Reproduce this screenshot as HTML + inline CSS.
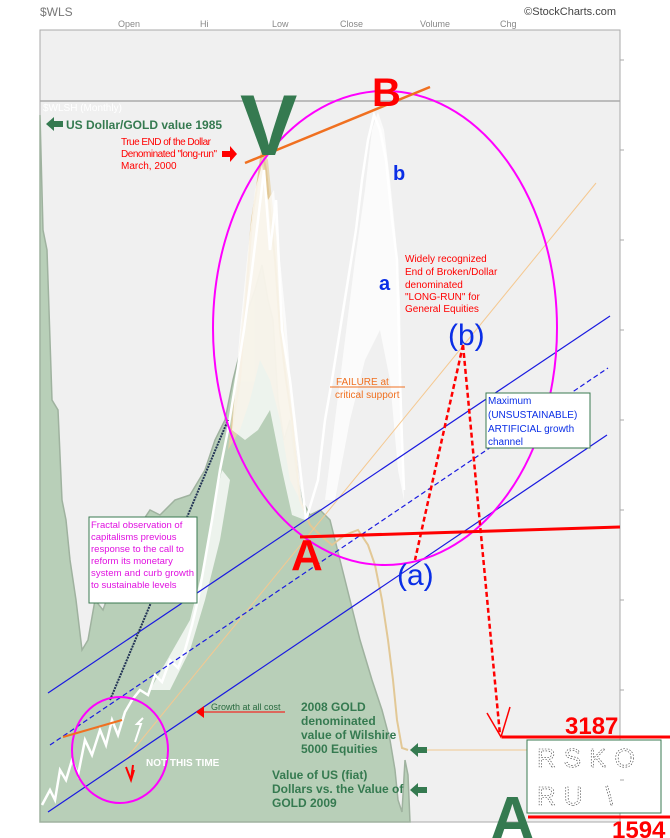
<!DOCTYPE html>
<html><head><meta charset="utf-8"><style>
html,body{margin:0;padding:0;background:#fff;}
svg{display:block;font-family:"Liberation Sans",sans-serif;}
</style></head><body>
<svg width="670" height="838" viewBox="0 0 670 838" xmlns="http://www.w3.org/2000/svg">
<rect width="670" height="838" fill="#fff"/>
<text x="40" y="16" font-size="12" fill="#777">$WLS</text>
<text x="616" y="15" font-size="11" fill="#444" text-anchor="end">©StockCharts.com</text>
<g font-size="9" fill="#888"><text x="118" y="27">Open</text><text x="200" y="27">Hi</text><text x="272" y="27">Low</text><text x="340" y="27">Close</text><text x="420" y="27">Volume</text><text x="500" y="27">Chg</text></g>
<rect x="40" y="30" width="580" height="792" fill="#f0f0f0" stroke="#aaa"/>
<line x1="40" y1="101" x2="620" y2="101" stroke="#aaa" stroke-width="1.5"/>
<text x="43" y="111" font-size="10" fill="#fff">$WLSH (Monthly)</text>
<path d="M40,822 L40,115 43,230 47,250 52,400 58,410 62,500 66,520 70,560 76,600 82,650 88,640 95,600 103,610 110,590 118,600 128,560 140,525 150,510 160,515 175,500 190,495 205,470 215,440 225,420 233,380 240,352 248,310 255,290 262,265 268,300 273,320 278,400 284,440 290,420 296,470 302,500 310,515 320,510 330,520 340,560 350,600 360,640 372,680 382,710 390,740 395,770 398,800 402,812 405,760 408,775 410,822 Z" fill="#b8cfb8" stroke="#9fb29f" stroke-width="1.5"/>
<!-- tan series -->
<path d="M228,450 L236,380 244,300 250,230 256,190 262,150 268,160 272,200 278,250 284,330 290,390 296,450 300,500 290,480 280,420 270,380 260,360 250,400 240,430 Z" fill="#e6d2a8" opacity="0.8"/>
<path d="M230,440 240,380 246,300 252,220 258,180 262,150 266,170 270,210 275,260 280,330 286,380 292,420 300,500 310,525 320,535 332,545 345,535 358,530 368,545 375,565 382,600 388,640 393,680 397,720 402,748 408,750" fill="none" stroke="#e2c896" stroke-width="2"/>
<line x1="410" y1="750" x2="527" y2="750" stroke="#f0c890" stroke-width="1"/>
<!-- white bands -->
<g fill="#fff" opacity="0.75">
<path d="M232,430 240,330 248,250 255,190 262,165 268,200 274,190 280,260 286,320 292,400 298,470 305,520 292,515 282,470 270,410 258,430 245,440 Z"/>
<path d="M325,500 335,420 345,340 355,260 365,190 372,130 378,112 384,130 390,180 396,240 400,300 402,420 404,500 398,470 390,380 380,330 365,360 350,420 335,500 Z"/>
<path d="M150,690 170,655 190,620 205,560 215,500 222,470 230,480 220,540 205,600 190,650 170,690 Z"/>
</g>
<path d="M42,805 50,790 55,800 60,770 66,780 72,760 78,775 85,740 92,755 100,730 106,745 112,720 118,735 125,712 132,700 140,690 148,695 155,675 162,682 170,660 178,668 185,650 192,625 198,600 205,560 212,520 220,470 228,430 236,380 244,330 252,270 258,220 264,170 270,250 276,200 282,330 290,380 298,450 306,520 312,500 318,480 325,420 332,380 340,330 348,280 356,230 362,180 368,140 374,115 380,130 386,160 392,220 397,260 400,380 402,440 404,490" fill="none" stroke="#fff" stroke-width="2.5"/>
<line x1="125" y1="760" x2="596" y2="183" stroke="#f5c890" stroke-width="1"/>
<line x1="48" y1="693" x2="610" y2="316" stroke="#1a1ae0" stroke-width="1.2"/>
<line x1="50" y1="745" x2="608" y2="368" stroke="#1a1ae0" stroke-width="1.2" stroke-dasharray="5,3"/>
<line x1="48" y1="812" x2="607" y2="435" stroke="#1a1ae0" stroke-width="1.2"/>
<line x1="110" y1="700" x2="228" y2="420" stroke="#235" stroke-width="2" stroke-dasharray="2,1"/>
<ellipse cx="385" cy="328" rx="172" ry="237" fill="none" stroke="#f0f" stroke-width="2"/>
<ellipse cx="120" cy="750" rx="48" ry="53" fill="none" stroke="#f0f" stroke-width="2"/>
<line x1="245" y1="163" x2="430" y2="87" stroke="#f07020" stroke-width="2.5"/>
<line x1="63" y1="737" x2="122" y2="720" stroke="#f07020" stroke-width="2"/>
<line x1="330" y1="387" x2="405" y2="387" stroke="#f07020" stroke-width="1"/>
<line x1="300" y1="537" x2="620" y2="527" stroke="#f00" stroke-width="3"/>
<path d="M463,345 L415,560 M463,345 L500,735" stroke="#f00" stroke-width="2.5" stroke-dasharray="5,3" fill="none"/>
<path d="M487,713 L501,737 L510,707" stroke="#f00" stroke-width="1.5" fill="none"/>
<line x1="502" y1="737" x2="670" y2="737" stroke="#f00" stroke-width="3"/>
<line x1="528" y1="817" x2="670" y2="817" stroke="#f00" stroke-width="3"/>
<text x="565" y="734" font-size="24" font-weight="bold" fill="#f00">3187</text>
<text x="612" y="838" font-size="24" font-weight="bold" fill="#f00">1594</text>
<rect x="527" y="740" width="134" height="73" fill="#fff" stroke="#3a7a50"/>
<text x="537" y="767" font-size="26" fill="#fff" stroke="#333" stroke-width="0.6" stroke-dasharray="1.5,1.5" letter-spacing="8">RSKO</text>
<text x="537" y="805" font-size="26" fill="#fff" stroke="#333" stroke-width="0.6" stroke-dasharray="1.5,1.5" letter-spacing="8">RU \</text>
<text x="240" y="155" font-size="86" font-weight="bold" fill="#357a50">V</text>
<text x="372" y="106" font-size="40" font-weight="bold" fill="#f00">B</text>
<text x="490" y="840" font-size="62" font-weight="bold" fill="#357a50">A</text>
<text x="291" y="570" font-size="44" font-weight="bold" fill="#f00">A</text>
<text x="397" y="585" font-size="30" fill="#0a2ee6">(a)</text>
<text x="448" y="345" font-size="30" fill="#0a2ee6">(b)</text>
<text x="379" y="290" font-size="20" font-weight="bold" fill="#0a2ee6">a</text>
<text x="393" y="180" font-size="20" font-weight="bold" fill="#0a2ee6">b</text>
<path d="M46,124 l8,-7 v4 h9 v6 h-9 v4 z" fill="#357a50"/>
<text x="66" y="129" font-size="12" font-weight="bold" fill="#357a50">US Dollar/GOLD value 1985</text>
<g font-size="10" fill="#f00"><text x="121" y="145" textLength="90">True END of the Dollar</text><text x="121" y="157" textLength="96">Denominated "long-run"</text><text x="121" y="169">March, 2000</text></g>
<path d="M222,151 h8 v-5 l7,8 -7,8 v-5 h-8 z" fill="#f00"/>
<g font-size="10" fill="#f00"><text x="405" y="262">Widely recognized</text><text x="405" y="275">End of Broken/Dollar</text><text x="405" y="288">denominated</text><text x="405" y="300">"LONG-RUN" for</text><text x="405" y="312">General Equities</text></g>
<text x="336" y="385" font-size="10" fill="#f07020">FAILURE at</text>
<text x="335" y="398" font-size="10" fill="#f07020">critical support</text>
<rect x="486" y="393" width="104" height="55" fill="#fff" stroke="#3a7a50"/>
<g font-size="10" fill="#0a2ee6"><text x="488" y="404">Maximum</text><text x="488" y="418">(UNSUSTAINABLE)</text><text x="488" y="432">ARTIFICIAL growth</text><text x="488" y="445">channel</text></g>
<rect x="89" y="517" width="108" height="86" fill="#fff" stroke="#3a7a50"/>
<g font-size="9.5" fill="#e010e0"><text x="91" y="528">Fractal observation of</text><text x="91" y="540">capitalisms previous</text><text x="91" y="552">response to the call to</text><text x="91" y="564">reform its monetary</text><text x="91" y="576" textLength="103">system and curb growth</text><text x="91" y="588">to sustainable levels</text></g>
<line x1="200" y1="712" x2="285" y2="712" stroke="#f00" stroke-width="1"/>
<path d="M196,712 l8,-6 v12 z" fill="#f00"/>
<text x="211" y="710" font-size="9" fill="#2a6a40">Growth at all cost</text>
<g font-size="12" font-weight="bold" fill="#357a50"><text x="301" y="711">2008 GOLD</text><text x="301" y="725">denominated</text><text x="301" y="739">value of Wilshire</text><text x="301" y="753">5000 Equities</text>
<text x="272" y="779">Value of US (fiat)</text><text x="272" y="793">Dollars vs. the Value of</text><text x="272" y="807">GOLD 2009</text></g>
<path d="M410,750 l8,-7 v4 h9 v6 h-9 v4 z" fill="#357a50"/>
<path d="M410,790 l8,-7 v4 h9 v6 h-9 v4 z" fill="#357a50"/>
<text x="146" y="766" font-size="10" font-weight="bold" fill="#fff">NOT THIS TIME</text>
<path d="M126,767 l5,13 3,-10 M131,780 l2,-15" stroke="#f00" stroke-width="2" fill="none"/>
<path d="M135,742 l6,-18 -4,0 6,-6" stroke="#fff" stroke-width="2" fill="none"/>
<g stroke="#aaa"><line x1="620" y1="60" x2="624" y2="60"/><line x1="620" y1="150" x2="624" y2="150"/><line x1="620" y1="240" x2="624" y2="240"/><line x1="620" y1="330" x2="624" y2="330"/><line x1="620" y1="420" x2="624" y2="420"/><line x1="620" y1="510" x2="624" y2="510"/><line x1="620" y1="600" x2="624" y2="600"/><line x1="620" y1="690" x2="624" y2="690"/><line x1="620" y1="780" x2="624" y2="780"/></g>
</svg>
</body></html>
